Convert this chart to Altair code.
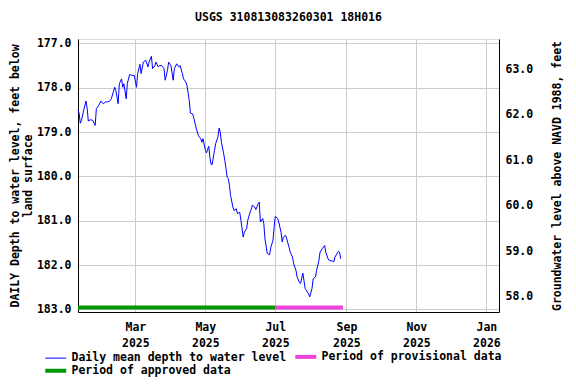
import altair as alt
import pandas as pd

# ---- data ----
dates = [
    "2025-01-10", "2025-01-11", "2025-01-12", "2025-01-13", "2025-01-15", "2025-01-17",
    "2025-01-18", "2025-01-19", "2025-01-21", "2025-01-23", "2025-01-25", "2025-01-26",
    "2025-01-28", "2025-01-30", "2025-02-01", "2025-02-03", "2025-02-05", "2025-02-07",
    "2025-02-08", "2025-02-11", "2025-02-12", "2025-02-14", "2025-02-15", "2025-02-17",
    "2025-02-18", "2025-02-19", "2025-02-21", "2025-02-22", "2025-02-24", "2025-02-26",
    "2025-02-28", "2025-03-02", "2025-03-03", "2025-03-05", "2025-03-06", "2025-03-08",
    "2025-03-10", "2025-03-12", "2025-03-13", "2025-03-15", "2025-03-16", "2025-03-18",
    "2025-03-19", "2025-03-21", "2025-03-22", "2025-03-24", "2025-03-26", "2025-03-27",
    "2025-03-29", "2025-03-30", "2025-04-01", "2025-04-03", "2025-04-04", "2025-04-06",
    "2025-04-08", "2025-04-09", "2025-04-11", "2025-04-12", "2025-04-14", "2025-04-15",
    "2025-04-17", "2025-04-18", "2025-04-20", "2025-04-21", "2025-04-23", "2025-04-25",
    "2025-04-27", "2025-04-28", "2025-04-29", "2025-05-01", "2025-05-02", "2025-05-04",
    "2025-05-05", "2025-05-06", "2025-05-07", "2025-05-09", "2025-05-10", "2025-05-12",
    "2025-05-13", "2025-05-14", "2025-05-15", "2025-05-17", "2025-05-18", "2025-05-19",
    "2025-05-20", "2025-05-21", "2025-05-22", "2025-05-23", "2025-05-25", "2025-05-26",
    "2025-05-28", "2025-05-29", "2025-05-31", "2025-06-01", "2025-06-03", "2025-06-04",
    "2025-06-06", "2025-06-07", "2025-06-09", "2025-06-10", "2025-06-11", "2025-06-13",
    "2025-06-14", "2025-06-16", "2025-06-17", "2025-06-18", "2025-06-20", "2025-06-21",
    "2025-06-22", "2025-06-24", "2025-06-26", "2025-06-27", "2025-06-29", "2025-06-30",
    "2025-07-01", "2025-07-03", "2025-07-04", "2025-07-06", "2025-07-07", "2025-07-08",
    "2025-07-10", "2025-07-11", "2025-07-13", "2025-07-14", "2025-07-16", "2025-07-17",
    "2025-07-19", "2025-07-20", "2025-07-22", "2025-07-23", "2025-07-25", "2025-07-26",
    "2025-07-27", "2025-07-29", "2025-07-30", "2025-07-31", "2025-08-02", "2025-08-03",
    "2025-08-05", "2025-08-06", "2025-08-08", "2025-08-09", "2025-08-11", "2025-08-13",
    "2025-08-14", "2025-08-16", "2025-08-17", "2025-08-20", "2025-08-21", "2025-08-22",
    "2025-08-25", "2025-08-26", "2025-08-27",
]
depths = [
    178.50, 178.58, 178.80, 178.74, 178.50, 178.30,
    178.47, 178.75, 178.72, 178.74, 178.85, 178.47,
    178.40, 178.30, 178.36, 178.32, 178.32, 178.29,
    178.25, 177.99, 178.06, 178.36, 177.91, 177.80,
    177.99, 177.91, 178.25, 177.91, 177.70, 177.72,
    177.72, 177.99, 177.68, 177.47, 177.68, 177.42,
    177.38, 177.53, 177.42, 177.29, 177.57, 177.50,
    177.42, 177.53, 177.50, 177.50, 177.57, 177.83,
    177.61, 177.42, 177.50, 177.83, 177.57, 177.46,
    177.53, 177.50, 177.68, 177.80, 177.87, 177.95,
    178.29, 178.57, 178.59, 178.69, 178.91, 179.08,
    179.15, 179.23, 179.15, 179.41, 179.47, 179.32,
    179.57, 179.73, 179.73, 179.41, 179.26, 179.11,
    178.91, 179.00, 179.23, 179.49, 179.64, 179.82,
    180.02, 180.05, 180.20, 180.43, 180.69, 180.77,
    180.73, 180.84, 180.81, 180.99, 181.37, 181.26,
    181.18, 180.99, 180.81, 180.75, 180.65, 180.69,
    180.75, 180.62, 180.58, 181.03, 180.95, 181.07,
    181.41, 181.74, 181.77, 181.61, 181.44, 181.14,
    180.90, 180.95, 181.03, 181.26, 181.48, 181.37,
    181.33, 181.41, 181.60, 181.71, 181.82, 181.97,
    182.12, 182.27, 182.39, 182.42, 182.18, 182.35,
    182.53, 182.61, 182.65, 182.72, 182.53, 182.31,
    182.27, 182.12, 181.90, 181.71, 181.63, 181.56,
    181.71, 181.86, 181.90, 181.91, 181.93, 181.82,
    181.69, 181.71, 181.86,
]
period_names = ["Period of approved data", "Period of provisional data"]
period_starts = ["2025-01-10", "2025-07-01"]
period_ends = ["2025-07-01", "2025-08-29"]
period_depth = [182.96, 182.96]

series_names = ["Daily mean depth to water level", "Period of provisional data", "Period of approved data"]
series_colors = ["#0000ff", "#ee44dd", "#009900"]

depth_ticks = [177.0, 178.0, 179.0, 180.0, 181.0, 182.0, 183.0]
elev_ticks = [58.0, 59.0, 60.0, 61.0, 62.0, 63.0]
datum_offset = 240.65  # elevation = offset - depth

FONT = "DejaVu Sans Mono"

line_df = pd.DataFrame({"date": dates, "depth": depths, "series": series_names[0]})
bar_df = pd.DataFrame({"start": period_starts, "end": period_ends,
                       "depth": period_depth, "series": period_names})

x_scale = alt.Scale(type="utc",
                    domain=[alt.DateTime(year=2025, month=1, date=10, utc=True),
                            alt.DateTime(year=2026, month=1, date=12, utc=True)])
x_axis = alt.Axis(
    values=[alt.DateTime(year=2025, month=3, date=1, utc=True),
            alt.DateTime(year=2025, month=5, date=1, utc=True),
            alt.DateTime(year=2025, month=7, date=1, utc=True),
            alt.DateTime(year=2025, month=9, date=1, utc=True),
            alt.DateTime(year=2025, month=11, date=1, utc=True),
            alt.DateTime(year=2026, month=1, date=1, utc=True)],
    labelExpr="[utcFormat(datum.value, '%b'), utcFormat(datum.value, '%Y')]",
    title=None, grid=True, ticks=False, labelPadding=9, labelLineHeight=16,
    labelFont=FONT, labelFontSize=11.5, labelFontWeight="bold", labelColor="black",
    domainColor="black", gridColor="#cccccc",
)
y_scale = alt.Scale(domain=[176.90, 183.06], reverse=True, nice=False, zero=False)
y_axis = alt.Axis(
    values=depth_ticks, format=".1f", orient="left", grid=True, ticks=False,
    labelPadding=7, labelFont=FONT, labelFontSize=11.5, labelFontWeight="bold",
    labelColor="black", domainColor="black", gridColor="#cccccc",
    title=["DAILY Depth to water level, feet below", "land surface"],
    titleFont=FONT, titleFontSize=11.5, titleFontWeight="bold", titleColor="black",
    titleLineHeight=13, titlePadding=3,
)

legend = alt.Legend(
    title=None, orient="none", legendX=-28, legendY=312, columns=2, direction="horizontal",
    symbolType="stroke", symbolSize=441,
    symbolStrokeWidth=alt.ExprRef(expr="datum.value === 'Daily mean depth to water level' ? 1 : 4"),
    columnPadding=0, rowPadding=-3, labelLimit=0,
    labelFont=FONT, labelFontSize=11.5, labelFontWeight="bold", labelColor="black",
    labelOffset=10,
)
color = alt.Color("series:N", scale=alt.Scale(domain=series_names, range=series_colors),
                  legend=legend)

line = alt.Chart(line_df).mark_line(strokeWidth=1).encode(
    x=alt.X("date:T", scale=x_scale, axis=x_axis),
    y=alt.Y("depth:Q", scale=y_scale, axis=y_axis),
    color=color,
)
bars = alt.Chart(bar_df).mark_rule(strokeWidth=4, strokeCap="butt").encode(
    x=alt.X("start:T", scale=x_scale, axis=x_axis),
    x2="end:T",
    y=alt.Y("depth:Q", scale=y_scale, axis=y_axis),
    color=color,
)
right = alt.Chart(line_df).transform_calculate(
    elev=f"{datum_offset} - datum.depth"
).mark_line(opacity=0).encode(
    x=alt.X("date:T", scale=x_scale, axis=x_axis),
    y=alt.Y("elev:Q",
            scale=alt.Scale(domain=[57.66, 63.67], nice=False, zero=False),
            axis=alt.Axis(values=elev_ticks, format=".1f", orient="right", grid=False,
                          ticks=False, labelPadding=6, labelFont=FONT, labelFontSize=11.5,
                          labelFontWeight="bold", labelColor="black", domainColor="black",
                          title="Groundwater level above NAVD 1988, feet",
                          titleAngle=270, titleBaseline="bottom",
                          titleFont=FONT, titleFontSize=11.5, titleFontWeight="bold",
                          titleColor="black", titlePadding=30)),
)

chart = alt.layer(alt.layer(line, bars), right).resolve_scale(y="independent").properties(
    width=421, height=273,
    title=alt.TitleParams("USGS 310813083260301 18H016", font=FONT, fontSize=11.5,
                          fontWeight="bold", color="black", anchor="middle", offset=14),
    autosize=alt.AutoSizeParams(type="none"),
    padding={"left": 70, "top": 31, "right": 69, "bottom": 68},
).configure_view(stroke="black", strokeWidth=1).configure(background="white")

chart.save("out.html", embed_options={"renderer": "svg", "actions": False})
